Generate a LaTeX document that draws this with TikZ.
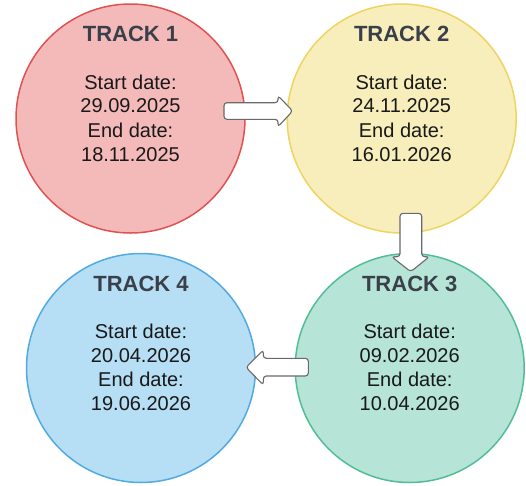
\documentclass[tikz,border=0pt]{standalone}
\usepackage{fontspec}
\setmainfont{Liberation Sans}
\definecolor{redfill}{RGB}{244,186,186}
\definecolor{redline}{RGB}{224,82,82}
\definecolor{yelfill}{RGB}{248,238,188}
\definecolor{yelline}{RGB}{238,212,96}
\definecolor{grnfill}{RGB}{182,228,214}
\definecolor{grnline}{RGB}{82,190,150}
\definecolor{blufill}{RGB}{182,222,244}
\definecolor{bluline}{RGB}{82,170,226}
\definecolor{titlecol}{RGB}{58,64,74}
\definecolor{arrline}{RGB}{105,105,105}
\begin{document}
\begin{tikzpicture}[x=1pt,y=-1pt,
  trackcircle/.style={circle, minimum size=229pt, inner sep=0pt, line width=1.5pt},
  tracktitle/.style={anchor=base, font=\fontsize{22}{26}\selectfont\bfseries, text=titlecol, inner sep=0pt},
  trackbody/.style={anchor=base, font=\fontsize{20}{24}\selectfont, text=black!90, inner sep=0pt},
  blockarrow/.style={draw=arrline, fill=white, line width=1.1pt, rounded corners=3pt}]
\useasboundingbox (0,0) rectangle (526,485);
\fill[white] (0,0) rectangle (526,485);
% circles
\node[trackcircle, draw=redline, fill=redfill] (c1) at (130.5,118.5) {};
\node[trackcircle, draw=yelline, fill=yelfill] (c2) at (401.7,118.5) {};
\node[trackcircle, draw=grnline, fill=grnfill] (c3) at (409.7,368) {};
\node[trackcircle, draw=bluline, fill=blufill] (c4) at (141,368) {};
% texts
\foreach \c/\n/\s/\e in {c1/1/29.09.2025/18.11.2025, c2/2/24.11.2025/16.01.2026, c3/3/09.02.2026/10.04.2026, c4/4/20.04.2026/19.06.2026}{
  \node[tracktitle] (\c-title) at ([yshift=77pt]\c.center) {TRACK \n};
  \node[trackbody] (\c-sl) at ([yshift=29.2pt]\c.center) {Start date:};
  \node[trackbody] (\c-sd) at ([yshift=5.8pt]\c.center) {\s};
  \node[trackbody] (\c-el) at ([yshift=-18.5pt]\c.center) {End date:};
  \node[trackbody] (\c-ed) at ([yshift=-42.7pt]\c.center) {\e};
}
% block arrows
\draw[blockarrow] (224,102.7) -- (278,102.7) -- (278,95.7) -- (292.7,111) -- (278,126.7) -- (278,119.3) -- (224,119.3) -- cycle;
\draw[blockarrow] (400,213.3) -- (421.7,213.3) -- (421.7,256.7) -- (429.3,256.7) -- (410.7,271.7) -- (391.7,256.7) -- (400,256.7) -- cycle;
\draw[blockarrow] (308.3,358.3) -- (263.3,358.3) -- (263.3,350) -- (246,367.3) -- (263.3,385) -- (263.3,376) -- (308.3,376) -- cycle;
\end{tikzpicture}
\end{document}
